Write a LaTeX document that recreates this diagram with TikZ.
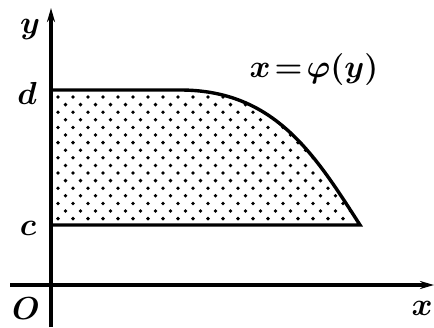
\documentclass[tikz,border=0pt]{standalone}
\usepackage{graphicx}
\usepackage{amsmath}
\usetikzlibrary{arrows.meta}
\newcommand{\biglbl}[1]{\scalebox{1.28}{#1}}
\begin{document}
\begin{tikzpicture}[x=1pt,y=-1pt,
  lbl/.style={font=\Huge\boldmath, inner sep=0pt},
  axis/.style={line width=3.2pt,-{Stealth[length=14pt,width=8pt]}},
  edge/.style={line width=3.4pt}]
\useasboundingbox (0,0) rectangle (434,327);
\coordinate (D0) at (51,90);
\coordinate (D1) at (180,90);
\coordinate (E) at (360,225);
\coordinate (C0) at (51,225);
% dotted fill
\begin{scope}
\clip (D0) -- (D1) .. controls (275,90) and (315,155) .. (E) -- (C0) -- cycle;
\foreach \r in {0,...,18} {
  \pgfmathsetmacro{\yy}{97+\r*7.6}
  \pgfmathsetmacro{\off}{mod(\r,2)*7.5}
  \foreach \c in {0,...,22} {
    \fill ({58+\off+\c*15},\yy) circle (1.9pt);
  }
}
\end{scope}
\coordinate (xs) at (10,285);
\coordinate (xe) at (434,285);
\coordinate (ys) at (51,327);
\coordinate (ye) at (51,8);
\draw[axis] (xs) -- (xe);
\draw[axis] (ys) -- (ye);
\draw[edge] (D0) -- (D1) .. controls (275,90) and (315,155) .. (E) -- (C0);
\node[lbl] (ylab) at (30,30) {\biglbl{$y$}};
\node[lbl] (dlab) at (27,93) {\biglbl{$d$}};
\node[lbl] (clab) at (28,228) {\biglbl{$c$}};
\node[lbl] (olab) at (26,309) {\biglbl{$O$}};
\node[lbl] (xlab) at (422,308) {\biglbl{$x$}};
\node[lbl] (flab) at (314,70) {\biglbl{$x\!=\!\varphi(y)$}};
\end{tikzpicture}
\end{document}
